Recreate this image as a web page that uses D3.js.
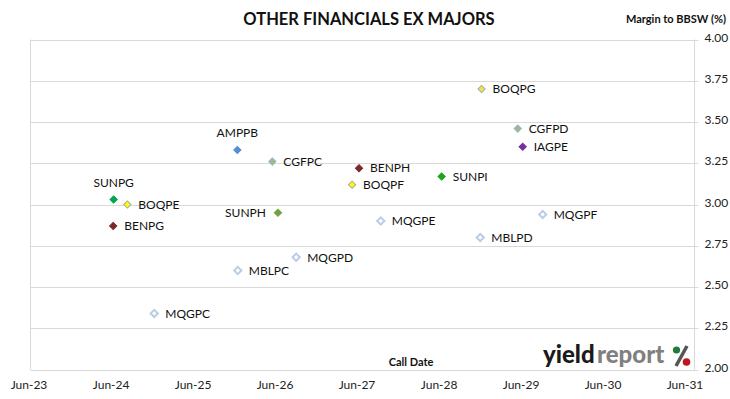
<!DOCTYPE html>
<html>
<head>
<meta charset="utf-8">
<script src="https://cdn.jsdelivr.net/npm/d3@7"></script>
<style>
  body { margin: 0; background: #fff; }
  svg { display: block; font-family: Lato, "Open Sans", sans-serif; }
</style>
</head>
<body>
<div id="chart"></div>
<script>
// securities, call dates and margins
const codes = ["AMPPB", "CGFPC", "BENPH", "BOQPF", "SUNPI", "MQGPE", "MBLPD", "MQGPF", "BOQPG",
    "CGFPD", "IAGPE", "SUNPG", "BOQPE", "BENPG", "SUNPH", "MQGPD", "MBLPC", "MQGPC"];
const callDates = ["2025-12-15", "2026-05-20", "2027-06-10", "2027-05-10", "2028-06-12", "2027-09-15",
    "2028-12-01", "2029-09-05", "2028-12-07", "2029-05-17", "2029-06-08", "2024-06-12", "2024-08-12",
    "2024-06-10", "2026-06-14", "2026-09-03", "2025-12-17", "2024-12-10"];
const margins = [3.33, 3.26, 3.22, 3.12, 3.17, 2.90, 2.80, 2.94, 3.70,
    3.46, 3.35, 3.03, 3.00, 2.87, 2.95, 2.68, 2.60, 2.34];

const xTickLabels = ["Jun-23", "Jun-24", "Jun-25", "Jun-26", "Jun-27", "Jun-28", "Jun-29", "Jun-30", "Jun-31"];
const yTicks = [2.00, 2.25, 2.50, 2.75, 3.00, 3.25, 3.50, 3.75, 4.00];

// marker look per issuer
const fills = {
    AMPPB: "#558ED5", CGFPC: "#A9B86E", CGFPD: "#A9B86E", BENPH: "#7B2A2A", BENPG: "#7B2A2A",
    BOQPF: "#FFFF00", BOQPE: "#FFFF00", BOQPG: "#E8E84A", SUNPI: "#1DA31D", SUNPG: "#00A550",
    SUNPH: "#70A040", IAGPE: "#7030A0"
};
const strokes = {
    AMPPB: "#558ED5", CGFPC: "#8EB4E3", CGFPD: "#8EB4E3", BENPH: "#7B2A2A", BENPG: "#7B2A2A",
    BOQPF: "#A6A6A6", BOQPE: "#A6A6A6", BOQPG: "#A6A6A6", SUNPI: "#1DA31D", SUNPG: "#00A550",
    SUNPH: "#70A040", IAGPE: "#7030A0"
};
const labelSide = { AMPPB: "top", SUNPG: "top", SUNPH: "left" };

const width = 730, height = 399;
const margin = { top: 39, right: 36, bottom: 29, left: 30 };
const parse = d3.timeParse("%Y-%m-%d");
const data = codes.map((c, i) => ({ code: c, date: parse(callDates[i]), value: margins[i] }));

const svg = d3.select("#chart").append("svg")
    .attr("width", width)
    .attr("height", height);

// ticks sit a touch inside the plot frame, like Excel's date axis
const x = d3.scaleTime()
    .domain([parse("2023-06-01"), parse("2031-06-01")])
    .range([29, 685]);
const y = d3.scaleLinear()
    .domain([2, 4])
    .range([height - margin.bottom - 0.5, margin.top + 0.5]);

const left = margin.left + 0.5, right = width - margin.right + 0.5;

// gridlines
svg.append("g")
    .selectAll("line")
    .data(yTicks)
    .join("line")
    .attr("x1", left)
    .attr("x2", right + 4)
    .attr("y1", d => Math.round(y(d)) + 0.5)
    .attr("y2", d => Math.round(y(d)) + 0.5)
    .attr("stroke", "#D9D9D9");

// frame sides
svg.append("line")
    .attr("x1", left).attr("x2", left)
    .attr("y1", y(4)).attr("y2", y(2))
    .attr("stroke", "#D9D9D9");
svg.append("line")
    .attr("x1", right).attr("x2", right)
    .attr("y1", y(4)).attr("y2", y(2))
    .attr("stroke", "#D9D9D9");

// y labels on the right
svg.append("g")
    .selectAll("text")
    .data(yTicks)
    .join("text")
    .attr("x", right + 10)
    .attr("y", d => y(d) - 1)
    .attr("dominant-baseline", "middle")
    .attr("font-size", 12)
    .attr("fill", "#222")
    .text(d => d3.format(".2f")(d));

// x labels
svg.append("g")
    .selectAll("text")
    .data(xTickLabels)
    .join("text")
    .attr("x", d => x(d3.timeParse("%b-%y")(d)))
    .attr("y", 389)
    .attr("text-anchor", "middle")
    .attr("font-size", 12)
    .attr("fill", "#222")
    .text(d => d);

// titles
svg.append("text")
    .attr("x", 369)
    .attr("y", 25)
    .attr("text-anchor", "middle")
    .attr("font-size", 16.5)
    .attr("font-weight", "bold")
    .attr("fill", "#111")
    .text("OTHER FINANCIALS EX MAJORS");

svg.append("text")
    .attr("x", 726)
    .attr("y", 23)
    .attr("text-anchor", "end")
    .attr("font-size", 11)
    .attr("font-weight", "bold")
    .attr("fill", "#111")
    .text("Margin to BBSW (%)");

svg.append("text")
    .attr("x", 411)
    .attr("y", 366)
    .attr("text-anchor", "middle")
    .attr("font-size", 11)
    .attr("font-weight", "bold")
    .attr("fill", "#111")
    .text("Call Date");

// logo
svg.append("text")
    .attr("x", 543)
    .attr("y", 363)
    .attr("font-size", 24)
    .attr("font-weight", "900")
    .attr("fill", "#1a1a1a")
    .text("yield");
svg.append("text")
    .attr("x", 597)
    .attr("y", 363)
    .attr("font-size", 24)
    .attr("font-weight", "900")
    .attr("fill", "#808080")
    .text("report");
const pct = svg.append("g").attr("transform", "translate(672,345)");
pct.append("line").attr("x1", 15).attr("y1", 1).attr("x2", 4).attr("y2", 21)
    .attr("stroke", "#555").attr("stroke-width", 3.5);
pct.append("circle").attr("cx", 4.5).attr("cy", 5).attr("r", 3.6).attr("fill", "#1E7B3A");
pct.append("circle").attr("cx", 14.5).attr("cy", 17).attr("r", 3.8).attr("fill", "#C0161E");

// markers
const diamond = d3.symbol().type(d3.symbolSquare).size(26);
const pts = svg.append("g")
    .selectAll("g")
    .data(data)
    .join("g")
    .attr("transform", d => `translate(${x(d.date)},${y(d.value)})`);

pts.append("path")
    .attr("d", diamond)
    .attr("transform", "rotate(45)")
    .attr("fill", d => fills[d.code] || "#fff")
    .attr("stroke", d => strokes[d.code] || "#B9CDE5")
    .attr("stroke-width", d => fills[d.code] ? 1 : 2);

pts.append("text")
    .attr("font-size", 12)
    .attr("fill", "#111")
    .attr("x", d => labelSide[d.code] === "top" ? 0 : labelSide[d.code] === "left" ? -12 : 11)
    .attr("y", d => labelSide[d.code] === "top" ? -13 : 0)
    .attr("dy", d => labelSide[d.code] === "top" ? 0 : "0.35em")
    .attr("text-anchor", d => labelSide[d.code] === "top" ? "middle" : labelSide[d.code] === "left" ? "end" : "start")
    .text(d => d.code);
</script>
</body>
</html>
